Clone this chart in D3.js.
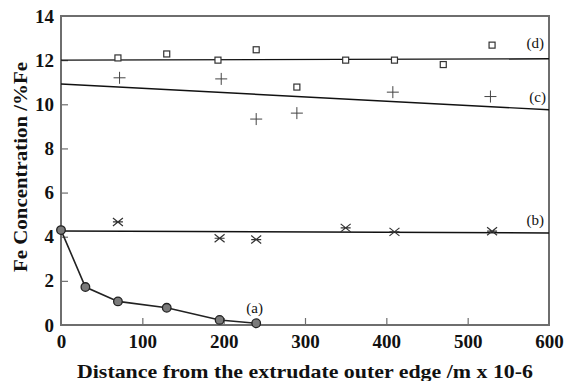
<!DOCTYPE html>
<html><head><meta charset="utf-8">
<script src="https://cdn.jsdelivr.net/npm/d3@7"></script>
<style>body{margin:0;background:#fff}svg{display:block}</style>
</head><body><svg id="c" width="567" height="381"></svg>
<script>
const xTicks = [0,100,200,300,400,500,600];
const yTicks = [0,2,4,6,8,10,12,14];
const xa = [0, 30, 70, 130, 195, 240];
const ya = [4.3, 1.72, 1.07, 0.78, 0.23, 0.08];
const xb = [70, 195, 240, 350, 410, 530];
const yb = [4.67, 3.93, 3.87, 4.4, 4.22, 4.25];
const xc = [72, 197, 240, 290, 408, 528];
const yc = [11.2, 11.15, 9.33, 9.6, 10.55, 10.35];
const xd = [70, 130, 193, 240, 290, 350, 410, 470, 530];
const yd = [12.1, 12.28, 12.0, 12.47, 10.78, 12.0, 12.0, 11.8, 12.68];
const fitX = [0, 600];
const fitB = [4.26, 4.17];
const fitC = [10.92, 9.75];
const fitD = [12.0, 12.06];
const labelText = ["(a)", "(b)", "(c)", "(d)"];
const labelX = [238, 583, 586, 583];
const labelY = [0.75, 4.76, 10.33, 12.78];

const svg = d3.select("#c");
const x = d3.scaleLinear().domain([0,600]).range([61,549]);
const y = d3.scaleLinear().domain([0,14]).range([325,16]);
const axisColor = "#6e6e6e";
const font = "'Liberation Serif','Times New Roman',serif";

// frame
svg.append("rect").attr("x",x(0)).attr("y",y(14)).attr("width",x(600)-x(0)).attr("height",y(0)-y(14))
  .attr("fill","none").attr("stroke",axisColor).attr("stroke-width",2);

const gx = svg.append("g").attr("transform",`translate(0,${y(0)})`)
  .call(d3.axisBottom(x).tickValues(xTicks).tickSizeInner(-7).tickSizeOuter(0).tickPadding(10));
const gy = svg.append("g").attr("transform",`translate(${x(0)},0)`)
  .call(d3.axisLeft(y).tickValues(yTicks).tickSizeInner(-7).tickSizeOuter(0).tickPadding(7));
[gx,gy].forEach(g=>{
  g.select(".domain").remove();
  g.selectAll(".tick line").attr("stroke",axisColor).attr("stroke-width",1.2);
  g.selectAll(".tick text").attr("fill","#111").style("font-family",font).style("font-weight","bold").style("font-size","19px");
});
gx.selectAll(".tick line").filter(d=>d===0||d===600).remove();
gy.selectAll(".tick line").filter(d=>d===0||d===14).remove();

// fit lines
const line = d3.line().x(d=>x(d[0])).y(d=>y(d[1]));
[fitB,fitC,fitD].forEach(f=>{
  svg.append("path").attr("d",line(fitX.map((v,i)=>[v,f[i]]))).attr("fill","none").attr("stroke","#111").attr("stroke-width",1.4);
});

// series a
const da = xa.map((v,i)=>[v,ya[i]]);
svg.append("path").attr("d",line(da)).attr("fill","none").attr("stroke","#222").attr("stroke-width",1.6);
svg.selectAll(".ma").data(da).enter().append("circle").attr("cx",d=>x(d[0])).attr("cy",d=>y(d[1])).attr("r",4.3)
  .attr("fill","#7a7a7a").attr("stroke","#222").attr("stroke-width",1.3);

// series b asterisks
const db = xb.map((v,i)=>[v,yb[i]]);
const gb = svg.selectAll(".mb").data(db).enter().append("g").attr("transform",d=>`translate(${x(d[0])},${y(d[1])})`);
gb.append("path").attr("d","M-5,-4L5,4M-5,4L5,-4M-5,0L5,0").attr("stroke","#333").attr("stroke-width",1.2).attr("fill","none");

// series c crosses
const dc = xc.map((v,i)=>[v,yc[i]]);
svg.selectAll(".mc").data(dc).enter().append("path").attr("transform",d=>`translate(${x(d[0])},${y(d[1])})`)
  .attr("d","M-6,0L6,0M0,-6L0,6").attr("stroke","#444").attr("stroke-width",1).attr("fill","none");

// series d squares
const dd = xd.map((v,i)=>[v,yd[i]]);
svg.selectAll(".md").data(dd).enter().append("rect").attr("x",d=>x(d[0])-3).attr("y",d=>y(d[1])-3).attr("width",6).attr("height",6)
  .attr("fill","#fff").attr("stroke","#333").attr("stroke-width",1.2);

// labels
labelText.forEach((t,i)=>{
  svg.append("text").attr("x",x(labelX[i])).attr("y",y(labelY[i])).attr("text-anchor","middle").attr("dominant-baseline","central")
    .style("font-family",font).style("font-size","15px").attr("fill","#111").text(t);
});

// axis titles
svg.append("text").attr("x",305).attr("y",378).attr("text-anchor","middle")
  .attr("textLength",456).attr("lengthAdjust","spacingAndGlyphs")
  .style("font-family",font).style("font-weight","bold").style("font-size","19px").attr("fill","#111")
  .text("Distance from the extrudate outer edge /m x 10-6");
svg.append("text").attr("transform","translate(27,167) rotate(-90)").attr("text-anchor","middle")
  .attr("textLength",210).attr("lengthAdjust","spacingAndGlyphs")
  .style("font-family",font).style("font-weight","bold").style("font-size","18px").attr("fill","#111")
  .text("Fe Concentration /%Fe");
</script></body></html>
